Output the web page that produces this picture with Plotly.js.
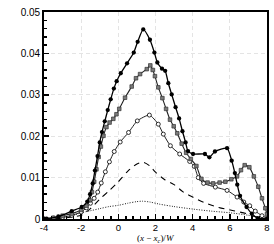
<!DOCTYPE html>
<html><head><meta charset="utf-8">
<script src="https://cdn.plot.ly/plotly-3.0.1.min.js"></script>
<style>html,body{margin:0;padding:0;background:#fff}#c{width:274px;height:244px}</style>
</head><body><div id="c"></div>
<script>
// Series 1: filled black circles
var x1 = [-4, -3.86, -3.23, -2.51, -1.97, -1.67, -1.52, -1.38, -1.26, -1.12, -1.0, -0.88, -0.73, -0.57, -0.41, -0.24, -0.09, 0.13, 0.47, 0.83, 1.04, 1.34, 1.7, 1.94, 2.1, 2.35, 2.52, 2.69, 2.87, 3.08, 3.27, 3.45, 3.62, 3.75, 4.02, 4.66, 4.9, 5.2, 5.85, 6.1, 6.27, 6.4, 6.55, 6.9, 7.18, 7.5, 8];
var y1 = [0, 0.0001, 0.0006, 0.0019, 0.0029, 0.0042, 0.006, 0.0086, 0.0117, 0.0152, 0.0185, 0.021, 0.0236, 0.0263, 0.0289, 0.0315, 0.0333, 0.0352, 0.0376, 0.0402, 0.0428, 0.0458, 0.0433, 0.0402, 0.0378, 0.0363, 0.0358, 0.0328, 0.0301, 0.027, 0.0243, 0.0212, 0.0185, 0.0164, 0.0157, 0.0157, 0.0149, 0.0163, 0.0171, 0.0141, 0.0111, 0.0083, 0.0056, 0.0029, 0.0013, 0.0002, 0];
// Series 2: gray squares
var x2 = [-4, -3.5, -3.0, -2.5, -2.0, -1.72, -1.55, -1.42, -1.3, -1.18, -1.06, -0.94, -0.8, -0.64, -0.47, -0.27, -0.1, 0.05, 0.36, 0.72, 0.95, 1.17, 1.53, 1.72, 1.85, 1.97, 2.15, 2.37, 2.57, 2.78, 2.98, 3.17, 3.41, 3.65, 3.9, 4.2, 4.47, 4.8, 5.1, 5.45, 5.76, 6.08, 6.39, 6.6, 6.8, 7.05, 7.29, 7.53, 7.73, 7.91, 8.0];
var y2 = [0, 0.0003, 0.0008, 0.0013, 0.0022, 0.0032, 0.0045, 0.0065, 0.009, 0.012, 0.015, 0.0175, 0.0201, 0.0222, 0.0233, 0.0242, 0.0253, 0.0266, 0.0293, 0.032, 0.034, 0.035, 0.0362, 0.0371, 0.036, 0.0345, 0.0318, 0.0292, 0.0266, 0.0240, 0.0224, 0.0207, 0.0182, 0.016, 0.0145, 0.0128, 0.0097, 0.0088, 0.0086, 0.0088, 0.009, 0.0096, 0.0103, 0.0118, 0.013, 0.0125, 0.0103, 0.0078, 0.005, 0.0026, 0.0012];
// Series 3: open circles
var x3 = [-4, -3.5, -3.0, -2.5, -2.0, -1.72, -1.5, -1.3, -1.11, -0.92, -0.7, -0.48, -0.22, 0.1, 0.55, 1.02, 1.67, 2.15, 2.42, 2.8, 3.3, 3.84, 4.09, 4.3, 4.59, 5.22, 5.85, 6.39, 6.75, 7.07, 7.37, 7.73, 8];
var y3 = [0, 0.0002, 0.0004, 0.0009, 0.0017, 0.0027, 0.0038, 0.005, 0.0065, 0.0087, 0.0114, 0.0138, 0.0163, 0.0186, 0.0209, 0.0237, 0.0251, 0.0229, 0.0205, 0.0177, 0.0157, 0.0139, 0.0127, 0.0100, 0.0086, 0.0077, 0.0069, 0.0053, 0.0041, 0.0032, 0.0019, 0.0008, 0.0002];
// Series 4: dashed
var x4 = [-4, -3, -2.5, -2, -1.5, -1, -0.5, 0, 0.5, 1.0, 1.35, 1.7, 2.0, 2.5, 3.0, 3.5, 4.0, 4.6, 5.4, 6.2, 6.9, 7.4, 8];
var y4 = [0, 0.0002, 0.0005, 0.0009, 0.0025, 0.0048, 0.0068, 0.009, 0.0115, 0.0133, 0.0137, 0.0128, 0.0113, 0.0095, 0.0083, 0.0065, 0.0053, 0.004, 0.0028, 0.002, 0.0013, 0.0005, 0];
// Series 5: dotted
var x5 = [-4, -3, -2.5, -2, -1.5, -1, -0.5, 0, 0.5, 1, 1.3, 1.7, 2.2, 3, 4, 5, 6, 7, 7.5, 8];
var y5 = [0, 0.0003, 0.0008, 0.0015, 0.002, 0.0025, 0.003, 0.0033, 0.0038, 0.0042, 0.0043, 0.0041, 0.0036, 0.003, 0.0024, 0.0019, 0.0015, 0.0009, 0.0004, 0];

var xTicks = [-4, -2, 0, 2, 4, 6, 8];
var yTicks = [0, 0.01, 0.02, 0.03, 0.04, 0.05];
var yTickText = ['0', '0.01', '0.02', '0.03', '0.04', '0.05'];
var xTitle = '(<i>x</i> − <i>x</i><sub><i>c</i></sub>)/<i>W</i>';

var traces = [
  {x: x5, y: y5, mode: 'lines', line: {color: '#000', width: 0.9, dash: '1px,1.5px', shape: 'spline', smoothing: 0.8}},
  {x: x4, y: y4, mode: 'lines', line: {color: '#000', width: 1.1, dash: '6px,5px', shape: 'spline', smoothing: 0.8}},
  {x: x3, y: y3, mode: 'lines+markers', line: {color: '#222', width: 1, shape: 'spline', smoothing: 0.6},
   marker: {symbol: 'circle', size: 4, color: '#fff', line: {color: '#000', width: 0.8}}},
  {x: x2, y: y2, mode: 'lines+markers', line: {color: '#222', width: 1.1, shape: 'spline', smoothing: 0.6},
   marker: {symbol: 'square', size: 3.6, color: '#7a7a7a', line: {color: '#333', width: 0.7}}},
  {x: x1, y: y1, mode: 'lines+markers', line: {color: '#000', width: 1.3, shape: 'spline', smoothing: 0.6},
   marker: {symbol: 'circle', size: 4.3, color: '#000'}}
];

var layout = {
  width: 274, height: 244,
  margin: {l: 44, r: 7, t: 12, b: 25},
  showlegend: false,
  paper_bgcolor: '#fff', plot_bgcolor: '#fff',
  font: {family: 'Liberation Sans, Arial, sans-serif', size: 10, color: '#000'},
  xaxis: {
    range: [-4, 8], tickmode: 'array', tickvals: xTicks, ticktext: xTicks.map(String),
    ticks: 'inside', ticklen: 5, tickwidth: 1.5, tickcolor: '#000', ticklabelstandoff: -1,
    minor: {dtick: 0.4, tick0: -4, ticks: 'inside', ticklen: 3, tickcolor: '#000', showgrid: false},
    showgrid: true, gridcolor: '#e4e4e4', griddash: '4px,3px', gridwidth: 1,
    showline: true, linecolor: '#000', linewidth: 1.8, mirror: true, zeroline: false,
    tickfont: {size: 9.5}, automargin: false
  },
  yaxis: {
    range: [0, 0.05], tickmode: 'array', tickvals: yTicks, ticktext: yTickText,
    ticks: 'inside', ticklen: 5, tickwidth: 1.5, tickcolor: '#000',
    minor: {dtick: 0.002, tick0: 0, ticks: 'inside', ticklen: 3, tickcolor: '#000', showgrid: false},
    showgrid: true, gridcolor: '#e4e4e4', griddash: '4px,3px', gridwidth: 1,
    showline: true, linecolor: '#000', linewidth: 1.8, mirror: true, zeroline: false,
    tickfont: {size: 10}, automargin: false
  },
  annotations: [{
    text: xTitle, xref: 'paper', yref: 'paper', x: 0.5, y: 0, yanchor: 'top', xanchor: 'center',
    yshift: -13, borderpad: 0, showarrow: false, font: {family: 'Liberation Serif, serif', size: 9, color: '#000'}
  }]
};
Plotly.newPlot('c', traces, layout, {displayModeBar: false, staticPlot: true});
</script></body></html>
